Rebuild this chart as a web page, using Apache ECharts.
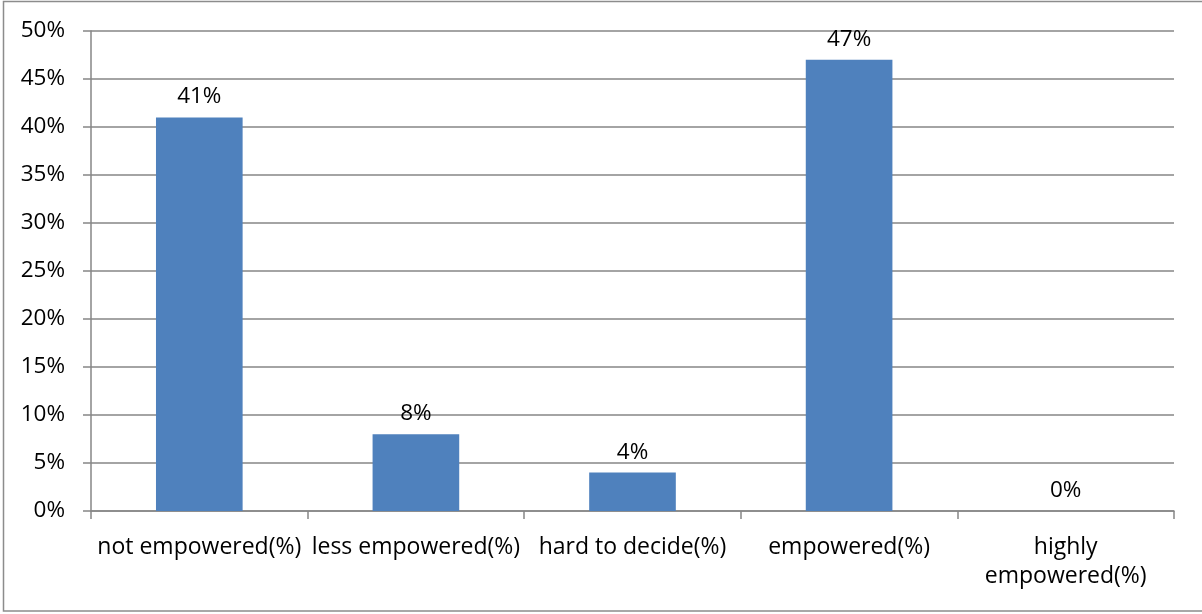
<!DOCTYPE html>
<html>
<head>
<meta charset="utf-8">
<script src="https://cdn.jsdelivr.net/npm/echarts@6/dist/echarts.min.js"></script>
<style>
  html, body { margin: 0; padding: 0; background: #fff; }
  #chart { width: 1202px; height: 614px; }
</style>
</head>
<body>
<div id="chart"></div>
<script>
// Empowerment categories and the share of respondents in each (percent)
const categories = [
  'not empowered(%)',
  'less empowered(%)',
  'hard to decide(%)',
  'empowered(%)',
  'highly\nempowered(%)'
];
const shares = [41, 8, 4, 47, 0];

const FONT = '"Open Sans", "Noto Sans", "Liberation Sans", sans-serif';
const chart = echarts.init(document.getElementById('chart'));

chart.setOption({
  animation: false,
  backgroundColor: '#ffffff',
  // outer chart frame (runs off the right edge)
  graphic: [{
    type: 'rect',
    shape: { x: 3.5, y: 1.5, width: 1210, height: 609.5 },
    style: { fill: 'none', stroke: '#8c8c8c', lineWidth: 1.5 },
    silent: true
  }],
  grid: { left: 91, right: 28, top: 31, bottom: 103 },
  xAxis: {
    type: 'category',
    data: categories,
    axisLine: { show: true, lineStyle: { color: '#868686', width: 1.5 } },
    axisTick: { show: true, length: 8, lineStyle: { color: '#868686', width: 1.5 } },
    axisLabel: { color: '#000', fontFamily: FONT, fontSize: 23, margin: 22, lineHeight: 29, interval: 0 }
  },
  yAxis: {
    type: 'value',
    min: 0, max: 50, interval: 5,
    axisLine: { show: true, lineStyle: { color: '#868686', width: 1.5 } },
    axisTick: { show: true, length: 8, lineStyle: { color: '#868686', width: 1.5 } },
    splitLine: { show: true, lineStyle: { color: '#868686', width: 1.5 } },
    axisLabel: { color: '#000', fontFamily: FONT, fontSize: 22.5, margin: 26, formatter: '{value}%' }
  },
  series: [{
    type: 'bar',
    data: shares,
    barWidth: '40%',
    itemStyle: { color: '#4f81bd' },
    label: {
      show: true,
      position: 'top',
      distance: 9,
      color: '#000',
      fontFamily: FONT,
      fontSize: 22.5,
      formatter: p => p.value + '%'
    }
  }]
});
</script>
</body>
</html>
